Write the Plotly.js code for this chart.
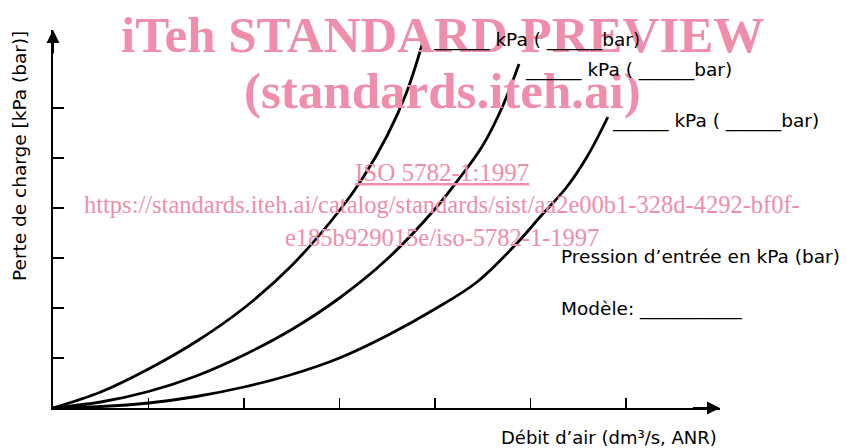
<!DOCTYPE html>
<html>
<head>
<meta charset="utf-8">
<script src="https://cdn.plot.ly/plotly-3.0.1.min.js"></script>
<style>html,body{margin:0;padding:0;background:#fff;}#chart{width:847px;height:448px;}</style>
</head>
<body>
<div id="chart"></div>
<script>
// Data in axis tick units (x: air flow ticks, y: pressure-drop ticks)
const curve1X = [0, 0.5, 1.0, 1.5, 2.0, 2.5, 3.0, 3.25, 3.5, 3.7, 3.87];
const curve1Y = [0, 0.32, 0.78, 1.33, 2.0, 2.85, 3.95, 4.62, 5.45, 6.3, 7.3];
const curve2X = [0, 0.5, 1.0, 1.5, 2.0, 2.5, 3.0, 3.5, 4.0, 4.25, 4.5, 4.7, 4.88];
const curve2Y = [0, 0.12, 0.33, 0.64, 1.06, 1.57, 2.2, 2.98, 3.98, 4.58, 5.25, 6.0, 6.88];
const curve3X = [0, 0.5, 1.0, 1.5, 2.0, 2.5, 3.0, 3.5, 4.0, 4.44, 4.86, 5.1, 5.38, 5.6, 5.81];
const curve3Y = [0, 0.03, 0.1, 0.23, 0.42, 0.67, 1.0, 1.45, 1.98, 2.52, 3.3, 3.82, 4.42, 5.05, 5.82];
const xTicks = [1, 2, 3, 4, 5, 6];
const yTicks = [1, 2, 3, 4, 5, 6];
const pressureLabel = "______ kPa ( ______bar)";
const xTitle = "Débit d’air (dm³/s, ANR)";
const yTitle = "Perte de charge [kPa (bar)]";
const legendTitle = "Pression d’entrée en kPa (bar)";
const modelLabel = "Modèle: ___________";
const wm1 = "iTeh STANDARD PREVIEW";
const wm2 = "(standards.iteh.ai)";
const wm3 = "ISO 5782-1:1997";
const wm4 = "https://standards.iteh.ai/catalog/standards/sist/aa2e00b1-328d-4292-bf0f-";
const wm5 = "e185b929015e/iso-5782-1-1997";

const L = 53, R = 720, T = 30, B = 408;
const W = 847, H = 448;
const px = x => (x - L) / (R - L);
const py = y => (B - y) / (B - T);
const XMAX = (R - L) / 95.5, YMAX = (B - T) / 50;

const FONT = "DejaVu Sans, sans-serif";
const FS = 18.5;
const PINK = "#ef8dab";
const lineStyle = {color: "#000", width: 2.8, shape: "spline", smoothing: 1};

const traces = [
  {x: curve1X, y: curve1Y, mode: "lines", line: lineStyle, cliponaxis: false, hoverinfo: "skip"},
  {x: curve2X, y: curve2Y, mode: "lines", line: lineStyle, cliponaxis: false, hoverinfo: "skip"},
  {x: curve3X, y: curve3Y, mode: "lines", line: lineStyle, cliponaxis: false, hoverinfo: "skip"}
];

function txt(text, x, y, opts) {
  return Object.assign({text: text, xref: "paper", yref: "paper", x: px(x), y: py(y),
    showarrow: false, xanchor: "left", yanchor: "middle",
    font: {family: FONT, size: FS, color: "#000"}}, opts || {});
}
function wm(text, y, size, bold) {
  return {text: bold ? "<b>" + text + "</b>" : text, xref: "paper", yref: "paper",
    x: px(442), y: py(y), showarrow: false, xanchor: "center", yanchor: "middle",
    font: {family: "Liberation Serif, Times New Roman, serif", size: size, color: PINK}};
}

const annotations = [
  wm(wm1, 35, 51, true),
  wm(wm2, 91, 51, true),
  wm('<span style="text-decoration:underline">' + wm3 + '</span>', 172, 25, false),
  wm(wm4, 205, 24.5, false),
  wm(wm5, 237, 24.5, false),
  txt(pressureLabel, 431, 40),
  txt(pressureLabel, 523, 70),
  txt(pressureLabel, 610, 121),
  txt(legendTitle, 559, 256),
  txt(modelLabel, 559, 309),
  txt(xTitle, 719, 437, {xanchor: "right", font: {family: FONT, size: 18, color: "#000"}}),
  txt(yTitle, 19, 156, {xanchor: "center", textangle: -90}),
  // axis arrowheads
  {x: XMAX, y: 0, ax: XMAX - 0.3, ay: 0, xref: "x", yref: "y", axref: "x", ayref: "y",
   showarrow: true, arrowhead: 2, arrowsize: 1.3, arrowwidth: 2, arrowcolor: "#000", text: "", standoff: 0},
  {x: 0, y: YMAX, ax: 0, ay: YMAX - 0.5, xref: "x", yref: "y", axref: "x", ayref: "y",
   showarrow: true, arrowhead: 2, arrowsize: 1.3, arrowwidth: 2, arrowcolor: "#000", text: "", standoff: 0}
];

const layout = {
  width: W, height: H,
  margin: {l: L, r: W - R, t: T, b: H - B, pad: 0},
  paper_bgcolor: "#fff", plot_bgcolor: "#fff",
  showlegend: false,
  xaxis: {range: [0, XMAX], showgrid: false, zeroline: false, showline: true, linecolor: "#000", linewidth: 2,
    ticks: "inside", tickvals: xTicks, ticklen: 10, tickwidth: 1.2, tickcolor: "#000", showticklabels: false, fixedrange: true},
  yaxis: {range: [0, YMAX], showgrid: false, zeroline: false, showline: true, linecolor: "#000", linewidth: 2,
    ticks: "inside", tickvals: yTicks, ticklen: 11, tickwidth: 1.2, tickcolor: "#000", showticklabels: false, fixedrange: true},
  annotations: annotations
};

Plotly.newPlot("chart", traces, layout, {staticPlot: true, displayModeBar: false});
</script>
</body>
</html>
